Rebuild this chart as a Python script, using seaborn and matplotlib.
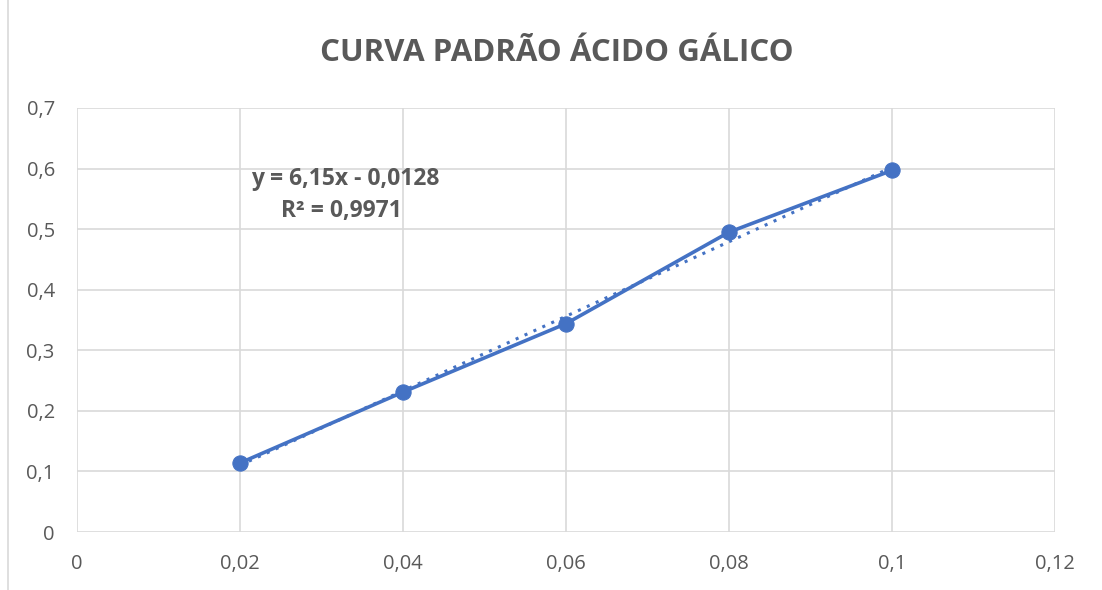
import numpy as np
import pandas as pd
import matplotlib
matplotlib.use('Agg')
import matplotlib.pyplot as plt
from matplotlib.ticker import FuncFormatter
from matplotlib.lines import Line2D
import seaborn as sns

# dados da curva padrão
concentracao = [0.02, 0.04, 0.06, 0.08, 0.10]
absorbancia = [0.114, 0.231, 0.344, 0.495, 0.597]
x_ticks = [0, 0.02, 0.04, 0.06, 0.08, 0.10, 0.12]
y_ticks = [0, 0.1, 0.2, 0.3, 0.4, 0.5, 0.6, 0.7]

sns.set_theme(style='whitegrid')
plt.rcParams['font.family'] = ['Open Sans', 'DejaVu Sans']

df = pd.DataFrame({'x': concentracao, 'y': absorbancia})
azul = '#4472C4'
cinza = '#595959'

fig = plt.figure(figsize=(11.02, 5.9), dpi=100)
ax = fig.add_axes([0.0699, 0.0983, 0.8875, 0.7187])

# linha de tendência (regressão linear)
sns.regplot(data=df, x='x', y='y', scatter=False, ci=None, ax=ax,
            line_kws=dict(color=azul, lw=2.2, ls=(0, (1, 2.2))))
sns.lineplot(data=df, x='x', y='y', ax=ax, color=azul, lw=2.6,
             marker='o', markersize=11, markeredgecolor=azul)

a, b = np.polyfit(concentracao, absorbancia, 1)
r2 = np.corrcoef(concentracao, absorbancia)[0, 1] ** 2

ax.set_xlim(0, 0.12)
ax.set_ylim(0, 0.7)
ax.set_xticks(x_ticks)
ax.set_yticks(y_ticks)
fmt = FuncFormatter(lambda v, p: ('%g' % round(v, 3)).replace('.', ','))
ax.xaxis.set_major_formatter(fmt)
ax.yaxis.set_major_formatter(fmt)
ax.tick_params(labelsize=14.5, colors=cinza, pad=10)
ax.set_xlabel('')
ax.set_ylabel('')
ax.grid(True, color='#d9d9d9', lw=1.2)
for s in ax.spines.values():
    s.set_visible(False)
ax.set_facecolor('white')

eq = 'y = %sx - %s' % (('%.2f' % a).replace('.', ','), ('%.4f' % abs(b)).replace('.', ','))
ax.text(0.0329, 0.582, eq, ha='center', va='center', fontsize=16.5,
        fontweight='bold', color=cinza)
ax.text(0.0325, 0.530, 'R² = %s' % ('%.4f' % r2).replace('.', ','), ha='center',
        va='center', fontsize=16.5, fontweight='bold', color=cinza)

fig.text(0.505, 0.910, 'CURVA PADRÃO ÁCIDO GÁLICO', ha='center', va='center',
         fontsize=22.5, fontweight='bold', color=cinza)
fig.add_artist(Line2D([0.0075, 0.0075], [0, 1], color='#d9d9d9', lw=1.2,
                      transform=fig.transFigure))

fig.savefig('out.png', dpi=100, facecolor='white')
